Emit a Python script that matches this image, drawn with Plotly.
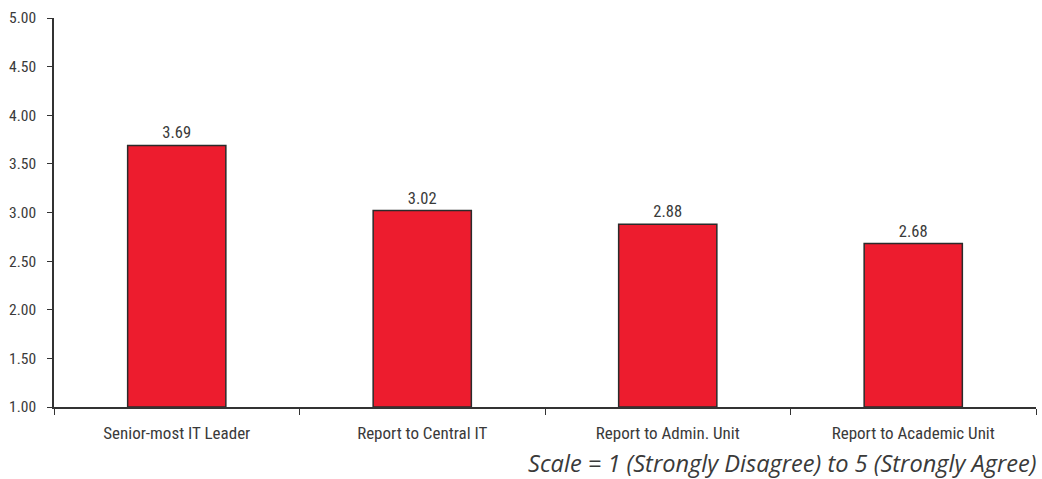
import plotly.graph_objects as go

categories = ["Senior-most IT Leader", "Report to Central IT", "Report to Admin. Unit", "Report to Academic Unit"]
values = [3.69, 3.02, 2.88, 2.68]
y_ticks = [1.0, 1.5, 2.0, 2.5, 3.0, 3.5, 4.0, 4.5, 5.0]
note = "Scale = 1 (Strongly Disagree) to 5 (Strongly Agree)"

base = 1.0
font_narrow = "Roboto Condensed, Liberation Sans Narrow, Arial Narrow, sans-serif"
txt = "#3a3a3a"

fig = go.Figure(go.Bar(
    x=categories,
    y=[v - base for v in values],
    base=base,
    width=0.4,
    marker=dict(color="#ED1C2E", line=dict(color="#2b2b2b", width=1.5)),
    text=[f"{v:.2f}" for v in values],
    textposition="outside",
    textfont=dict(family=font_narrow, size=16.5, color=txt, weight=400),
    cliponaxis=False,
))

fig.update_layout(
    width=1042, height=479,
    margin=dict(l=54, r=6, t=18, b=72),
    paper_bgcolor="white", plot_bgcolor="white",
    showlegend=False,
    font=dict(family=font_narrow, size=16.5, color=txt, weight=400),
    xaxis=dict(
        type="category", tickson="boundaries",
        ticks="outside", ticklen=6, tickcolor="#333333",
        showline=True, linecolor="#333333", linewidth=1.5,
        showgrid=False, zeroline=False,
        tickfont=dict(family=font_narrow, size=17, color=txt, weight=400),
        ticklabelstandoff=10,
    ),
    yaxis=dict(
        range=[1, 5], tickvals=y_ticks, tickformat=".2f",
        ticks="outside", ticklen=5, tickcolor="#333333",
        showline=True, linecolor="#333333", linewidth=1.5,
        showgrid=False, zeroline=False,
        tickfont=dict(family=font_narrow, size=15.5, color=txt, weight=400),
        ticklabelstandoff=8,
    ),
    annotations=[dict(
        text=note, xref="paper", yref="paper", x=1.0, y=0, xanchor="right", yanchor="middle",
        yshift=-56, xshift=3, showarrow=False,
        font=dict(family="Open Sans, Noto Sans, sans-serif", size=23.6, color="#3a3a3a", style="italic"),
    )],
)

fig.write_html("out.html")
